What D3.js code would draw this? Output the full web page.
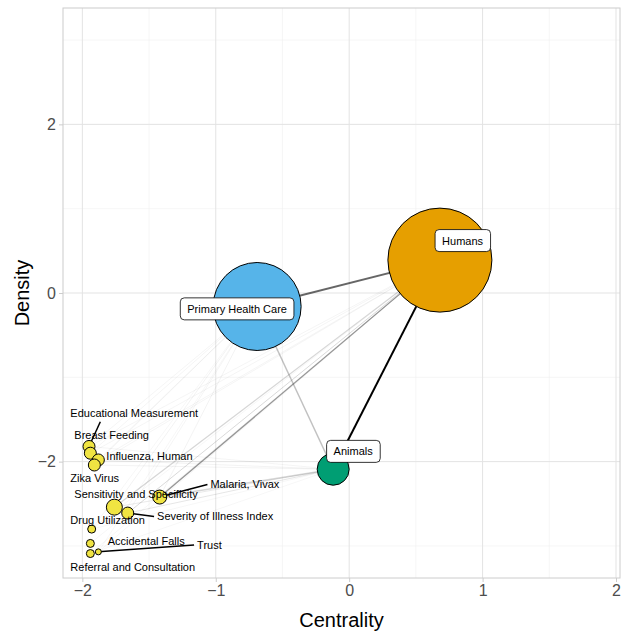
<!DOCTYPE html>
<html><head><meta charset="utf-8">
<script src="https://cdn.jsdelivr.net/npm/d3@7"></script>
<style>body{margin:0;background:#fff;font-family:"Liberation Sans",Arial,sans-serif}</style>
</head><body><svg id="chart"></svg>
<script>
// node data: name, centrality, density, size (radius px), colour
const names = ["Humans","Primary Health Care","Animals","Educational Measurement","Breast Feeding","Influenza, Human","Zika Virus","Malaria, Vivax","Sensitivity and Specificity","Severity of Illness Index","Drug Utilization","Accidental Falls","Referral and Consultation","Trust"];
const centrality = [0.68,-0.69,-0.12,-1.95,-1.94,-1.88,-1.91,-1.42,-1.76,-1.66,-1.93,-1.94,-1.94,-1.88];
const density = [0.39,-0.16,-2.09,-1.82,-1.90,-1.98,-2.04,-2.42,-2.54,-2.61,-2.80,-2.97,-3.09,-3.07];
const sizes = [52,44,16,6,6,6,6,7,8,6,4,4,4,3];
const colours = ["#E69F00","#56B4E9","#009E73","#F0E442","#F0E442","#F0E442","#F0E442","#F0E442","#F0E442","#F0E442","#F0E442","#F0E442","#F0E442","#F0E442"];
// label positions (data units), boxed flag, leader flag
const labelX = [0.85,-0.84,0.03,-2.09,-2.06,-1.82,-2.09,-1.04,-2.06,-1.44,-2.09,-1.81,-2.09,-1.14];
const labelY = [0.62,-0.19,-1.88,-1.42,-1.69,-1.93,-2.20,-2.27,-2.39,-2.65,-2.69,-2.94,-3.25,-2.99];
const boxed = [1,1,1,0,0,0,0,0,0,0,0,0,0,0];
const leader = [0,0,0,1,0,0,0,1,0,1,0,0,0,1];
// edges: source, target, opacity, width
const edges = [
  [0,1,0.75,2],[0,2,1,2],[1,2,0.3,1.5],
  [7,0,0.35,1.2],[7,0,0.25,1.2],[8,0,0.2,1.2],[9,0,0.15,1],[7,2,0.2,1.5],[9,2,0.12,1],[8,2,0.1,1],
  [3,0,0.05,1],[4,0,0.05,1],[5,0,0.05,1],[6,0,0.05,1],[10,0,0.04,1],[11,0,0.04,1],[12,0,0.04,1],[13,0,0.04,1],
  [3,1,0.05,1],[4,1,0.05,1],[5,1,0.05,1],[6,1,0.05,1],[7,1,0.06,1],[8,1,0.06,1],[9,1,0.05,1],[10,1,0.04,1],[13,1,0.04,1],
  [3,2,0.05,1],[5,2,0.06,1],[6,2,0.06,1],[10,2,0.04,1],[12,2,0.04,1]
];
const xTicks = [-2,-1,0,1,2];
const yTicks = [-2,0,2];

const W = 627, H = 631;
const m = {top: 8, right: 7, bottom: 53, left: 63};
const svg = d3.select('#chart').attr('width', W).attr('height', H);
const x = d3.scaleLinear().domain([-2.145, 2.03]).range([m.left, W - m.right]);
const y = d3.scaleLinear().domain([-3.38, 3.38]).range([H - m.bottom, m.top]);

// grid
const minorX = d3.range(-2.5, 2.6, 1).filter(v => v > x.domain()[0] && v < x.domain()[1]);
const minorY = d3.range(-3, 3.1, 2);
const g = svg.append('g');
g.selectAll('.mx').data(minorX).join('line').attr('x1', d => x(d)).attr('x2', d => x(d))
  .attr('y1', m.top).attr('y2', H - m.bottom).attr('stroke', '#f0f0f0').attr('stroke-width', 0.6);
g.selectAll('.my').data(minorY).join('line').attr('y1', d => y(d)).attr('y2', d => y(d))
  .attr('x1', m.left).attr('x2', W - m.right).attr('stroke', '#f0f0f0').attr('stroke-width', 0.6);
g.selectAll('.gx').data(xTicks).join('line').attr('x1', d => x(d)).attr('x2', d => x(d))
  .attr('y1', m.top).attr('y2', H - m.bottom).attr('stroke', '#e3e3e3').attr('stroke-width', 1);
g.selectAll('.gy').data(yTicks).join('line').attr('y1', d => y(d)).attr('y2', d => y(d))
  .attr('x1', m.left).attr('x2', W - m.right).attr('stroke', '#e3e3e3').attr('stroke-width', 1);

// axes
const xAxis = svg.append('g').attr('transform', `translate(0,${H - m.bottom})`)
  .call(d3.axisBottom(x).tickValues(xTicks).tickSize(4).tickFormat(d3.format('d')));
const yAxis = svg.append('g').attr('transform', `translate(${m.left},0)`)
  .call(d3.axisLeft(y).tickValues(yTicks).tickSize(4).tickFormat(d3.format('d')));
[xAxis, yAxis].forEach(a => {
  a.select('.domain').remove();
  a.selectAll('line').attr('stroke', '#cccccc');
  a.selectAll('text').attr('fill', '#4d4d4d').style('font-size', '16px').style('font-family', 'Liberation Sans, Arial');
});
svg.append('rect').attr('x', m.left).attr('y', m.top).attr('width', W - m.left - m.right)
  .attr('height', H - m.top - m.bottom).attr('fill', 'none').attr('stroke', '#cccccc');

svg.append('text').attr('x', (m.left + W - m.right) / 2).attr('y', 627).attr('text-anchor', 'middle')
  .style('font-size', '20px').text('Centrality');
svg.append('text').attr('transform', `translate(29,${(m.top + H - m.bottom) / 2}) rotate(-90)`)
  .attr('text-anchor', 'middle').style('font-size', '20px').text('Density');

// edges
svg.append('g').selectAll('line').data(edges).join('line')
  .attr('x1', d => x(centrality[d[0]])).attr('y1', d => y(density[d[0]]))
  .attr('x2', d => x(centrality[d[1]])).attr('y2', d => y(density[d[1]]))
  .attr('stroke', (d, i) => i === 1 ? '#000' : '#333').attr('stroke-opacity', d => d[2])
  .attr('stroke-width', d => d[3]);

// leader lines
const idx = d3.range(names.length);
svg.append('g').selectAll('line').data(idx.filter(i => leader[i])).join('line')
  .attr('x1', i => x(centrality[i])).attr('y1', i => y(density[i]))
  .attr('x2', i => i === 3 ? x(labelX[i]) + 30 : x(labelX[i]) - 3)
  .attr('y2', i => i === 3 ? y(labelY[i]) + 9 : y(labelY[i]))
  .attr('stroke', '#000').attr('stroke-width', 1.5);

// nodes, biggest first
svg.append('g').selectAll('circle').data(idx.slice().sort((a, b) => sizes[b] - sizes[a])).join('circle')
  .attr('cx', i => x(centrality[i])).attr('cy', i => y(density[i])).attr('r', i => sizes[i])
  .attr('fill', i => colours[i]).attr('stroke', '#000').attr('stroke-width', 1);

// labels
const lab = svg.append('g').selectAll('g').data(idx).join('g');
lab.each(function(i) {
  const s = d3.select(this);
  if (boxed[i]) {
    const t = s.append('text').attr('x', x(labelX[i])).attr('y', y(labelY[i])).attr('dy', '0.35em')
      .attr('text-anchor', 'middle').style('font-size', '11px').text(names[i]);
    const bb = t.node().getBBox();
    s.insert('rect', 'text').attr('x', bb.x - 7).attr('y', bb.y - 5).attr('width', bb.width + 14)
      .attr('height', bb.height + 10).attr('rx', 4).attr('fill', '#fff').attr('stroke', '#000').attr('stroke-width', 0.8);
  } else {
    s.append('text').attr('x', x(labelX[i])).attr('y', y(labelY[i])).attr('dy', '0.35em')
      .style('font-size', '11px').text(names[i]);
  }
});
</script></body></html>
